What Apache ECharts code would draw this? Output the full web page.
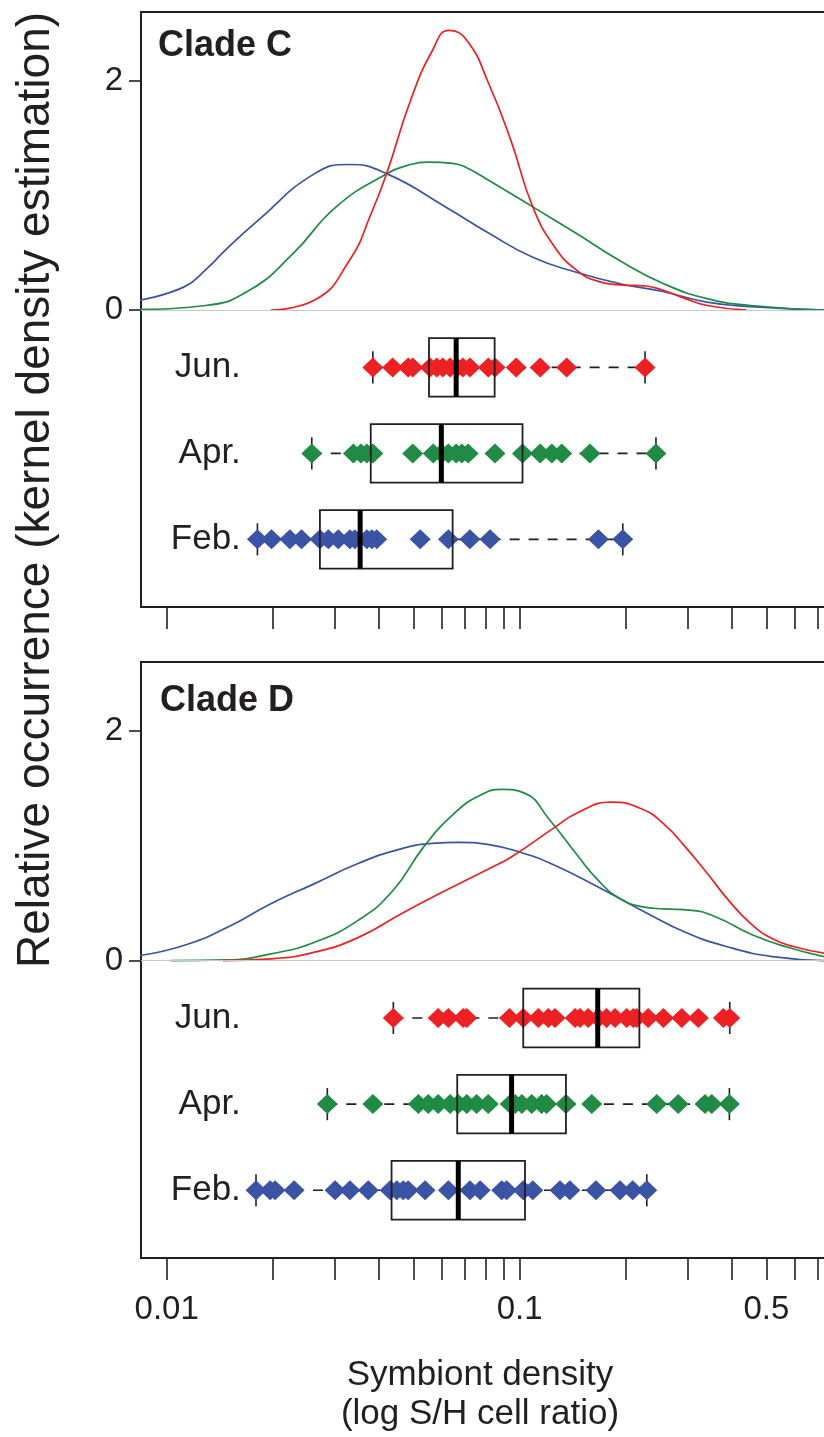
<!DOCTYPE html>
<html lang="en">
<head>
<meta charset="UTF-8">
<title>Symbiont density by clade</title>
<script src="https://cdn.jsdelivr.net/npm/echarts@6.0.0/dist/echarts.min.js"></script>
<style>
  html, body { margin: 0; padding: 0; background: #fff; }
  #main { width: 824px; height: 1437px; }
</style>
</head>
<body>
<div id="main"></div>
<script type="text/javascript">
// x values are log10(S/H cell ratio), y values are relative occurrence
var xTicks = [0.01, 0.02, 0.03, 0.04, 0.05, 0.06, 0.07, 0.08, 0.09, 0.1, 0.2, 0.3, 0.4, 0.5, 0.6, 0.7];
var xLabels = [0.01, 0.1, 0.5];
var yTicks = [0, 2];
var months = ['Jun.', 'Apr.', 'Feb.'];
var rowY = [-0.5, -1.25, -2.0];

// Clade C : individual samples and box stats [low, q1, median, q3, high]
var cJunPts = [-1.416, -1.360, -1.316, -1.303, -1.254, -1.235, -1.218, -1.197, -1.178, -1.161, -1.141, -1.089, -1.070, -1.010, -0.942, -0.867, -0.645];
var cAprPts = [-1.589, -1.471, -1.450, -1.433, -1.416, -1.303, -1.245, -1.221, -1.202, -1.180, -1.164, -1.146, -1.070, -0.992, -0.942, -0.909, -0.881, -0.801, -0.614];
var cFebPts = [-1.743, -1.703, -1.651, -1.618, -1.566, -1.542, -1.514, -1.481, -1.467, -1.433, -1.419, -1.405, -1.282, -1.202, -1.141, -1.084, -0.777, -0.708];
var cJunBox = [-1.416, -1.257, -1.180, -1.071, -0.645];
var cAprBox = [-1.589, -1.422, -1.222, -0.992, -0.614];
var cFebBox = [-1.743, -1.566, -1.452, -1.190, -0.708];

// Clade C : kernel density curves
var cJunKdeX = [-1.705, -1.581, -1.482, -1.421, -1.377, -1.309, -1.248, -1.201, -1.149, -1.087, -1.025, -0.963, -0.901, -0.840, -0.778, -0.716, -0.642, -0.592, -0.531, -0.469, -0.357];
var cJunKdeY = [0, 0.087, 0.435, 0.84, 1.19, 1.83, 2.26, 2.44, 2.35, 1.97, 1.48, 0.90, 0.55, 0.35, 0.25, 0.22, 0.21, 0.17, 0.10, 0.04, 0];
var cAprKdeX = [-2.076, -1.890, -1.767, -1.643, -1.520, -1.377, -1.320, -1.260, -1.190, -1.149, -1.087, -0.963, -0.840, -0.716, -0.592, -0.469, -0.345, -0.138];
var cAprKdeY = [0.006, 0.04, 0.17, 0.49, 0.90, 1.19, 1.26, 1.29, 1.28, 1.24, 1.13, 0.90, 0.67, 0.43, 0.23, 0.10, 0.04, 0];
var cFebKdeX = [-2.076, -1.952, -1.890, -1.828, -1.742, -1.581, -1.482, -1.377, -1.210, -1.087, -0.963, -0.840, -0.716, -0.592, -0.470, -0.345, -0.138];
var cFebKdeY = [0.087, 0.2, 0.35, 0.54, 0.78, 1.19, 1.27, 1.19, 0.90, 0.67, 0.46, 0.33, 0.23, 0.16, 0.07, 0.03, 0];

// Clade D : individual samples and box stats
var dJunPts = [-1.358, -1.231, -1.202, -1.160, -1.150, -1.029, -0.990, -0.947, -0.919, -0.900, -0.843, -0.829, -0.806, -0.777, -0.754, -0.730, -0.697, -0.678, -0.669, -0.636, -0.593, -0.541, -0.494, -0.423, -0.405];
var dAprPts = [-1.545, -1.416, -1.287, -1.259, -1.231, -1.197, -1.174, -1.150, -1.122, -1.089, -1.027, -1.013, -0.994, -0.966, -0.938, -0.924, -0.869, -0.796, -0.612, -0.551, -0.475, -0.456, -0.406];
var dFebPts = [-1.747, -1.707, -1.693, -1.639, -1.523, -1.481, -1.429, -1.367, -1.348, -1.330, -1.316, -1.268, -1.202, -1.141, -1.112, -1.051, -1.037, -0.990, -0.963, -0.886, -0.858, -0.784, -0.716, -0.680, -0.640];
var dJunBox = [-1.358, -0.990, -0.779, -0.661, -0.405];
var dAprBox = [-1.545, -1.177, -1.023, -0.869, -0.406];
var dFebBox = [-1.747, -1.363, -1.174, -0.985, -0.640];

// Clade D : kernel density curves
var dJunKdeX = [-1.841, -1.705, -1.581, -1.458, -1.334, -1.210, -1.087, -1.025, -0.901, -0.840, -0.741, -0.654, -0.592, -0.531, -0.469, -0.407, -0.345, -0.284, -0.222, -0.138];
var dJunKdeY = [0, 0.015, 0.073, 0.20, 0.41, 0.61, 0.80, 0.90, 1.16, 1.28, 1.38, 1.32, 1.19, 0.99, 0.76, 0.52, 0.32, 0.19, 0.12, 0.064];
var dAprKdeX = [-1.989, -1.828, -1.705, -1.581, -1.458, -1.359, -1.272, -1.186, -1.112, -1.050, -0.988, -0.914, -0.840, -0.778, -0.716, -0.654, -0.592, -0.518, -0.444, -0.345, -0.246, -0.138];
var dAprKdeY = [0, 0.006, 0.058, 0.16, 0.35, 0.61, 0.99, 1.28, 1.44, 1.49, 1.46, 1.22, 0.93, 0.70, 0.54, 0.47, 0.45, 0.44, 0.38, 0.23, 0.12, 0.035];
var dFebKdeX = [-2.076, -1.952, -1.828, -1.705, -1.581, -1.458, -1.334, -1.248, -1.173, -1.087, -1.000, -0.901, -0.778, -0.654, -0.531, -0.407, -0.284, -0.138];
var dFebKdeY = [0.044, 0.131, 0.29, 0.495, 0.67, 0.845, 0.975, 1.02, 1.03, 1.01, 0.946, 0.83, 0.64, 0.437, 0.247, 0.116, 0.035, 0];

var FONT = '"Liberation Sans", Arial, Helvetica, sans-serif';
var INK = '#231f20';
var colors = ['#ed2024', '#1f8b44', '#3a53a4']; // Jun, Apr, Feb
var X_MIN = -2.0728, X_MAX = -0.121;
var Y_MIN = -2.59, Y_MAX = 2.6;
var BOX_H = 0.255, CAP_H = 0.14, LABEL_X = -1.79;

function pairs(xs, ys) {
    return xs.map(function (x, i) { return [x, ys[i]]; });
}

function panelSeries(gi, kdes, pts, boxes) {
    var list = [];
    // curves: Feb first so Jun sits on top
    for (var m = 2; m >= 0; m--) {
        var s = {
            type: 'line', xAxisIndex: gi, yAxisIndex: gi,
            data: pairs(kdes[m][0], kdes[m][1]),
            smooth: 0.5, showSymbol: false, silent: true, z: 2,
            lineStyle: { color: colors[m], width: 1.7 }
        };
        if (m === 2) {
            s.markLine = {
                silent: true, symbol: 'none', label: { show: false },
                lineStyle: { color: '#c8c8c8', width: 1, type: 'solid' },
                data: [{ yAxis: 0 }]
            };
        }
        list.push(s);
    }
    // whiskers + month labels
    list.push({
        type: 'custom', xAxisIndex: gi, yAxisIndex: gi, z: 3, silent: true,
        data: boxes.map(function (b, m) { return b.concat([rowY[m]]); }),
        encode: { x: [0, 1, 2, 3, 4], y: 5 },
        renderItem: function (params, api) {
            var y = api.value(5);
            var lo = api.coord([api.value(0), y]);
            var q1 = api.coord([api.value(1), y]);
            var q3 = api.coord([api.value(3), y]);
            var hi = api.coord([api.value(4), y]);
            var cap = Math.abs(api.coord([0, y + CAP_H])[1] - lo[1]);
            var lab = api.coord([LABEL_X, y]);
            var dash = { stroke: INK, lineWidth: 1.6, lineDash: [10, 9] };
            var solid = { stroke: INK, lineWidth: 1.6 };
            return {
                type: 'group', children: [
                    { type: 'line', shape: { x1: lo[0], y1: lo[1], x2: q1[0], y2: q1[1] }, style: dash },
                    { type: 'line', shape: { x1: q3[0], y1: q3[1], x2: hi[0], y2: hi[1] }, style: dash },
                    { type: 'line', shape: { x1: lo[0], y1: lo[1] - cap, x2: lo[0], y2: lo[1] + cap }, style: solid },
                    { type: 'line', shape: { x1: hi[0], y1: hi[1] - cap, x2: hi[0], y2: hi[1] + cap }, style: solid },
                    { type: 'text', x: lab[0], y: lab[1], style: {
                        text: months[params.dataIndex], font: '35px ' + FONT, fill: INK,
                        align: 'right', verticalAlign: 'middle' } }
                ]
            };
        }
    });
    // sample diamonds
    for (var k = 0; k < 3; k++) {
        list.push({
            type: 'scatter', xAxisIndex: gi, yAxisIndex: gi, z: 4, silent: true,
            symbol: 'diamond', symbolSize: [21, 20],
            itemStyle: { color: colors[k], opacity: 1 },
            data: pts[k].map(function (v) { return [v, rowY[k]]; })
        });
    }
    // box + median on top
    list.push({
        type: 'custom', xAxisIndex: gi, yAxisIndex: gi, z: 5, silent: true,
        data: boxes.map(function (b, m) { return b.concat([rowY[m]]); }),
        encode: { x: [0, 1, 2, 3, 4], y: 5 },
        renderItem: function (params, api) {
            var y = api.value(5);
            var top = api.coord([api.value(1), y + BOX_H]);
            var bot = api.coord([api.value(3), y - BOX_H]);
            var med = api.coord([api.value(2), y]);
            return {
                type: 'group', children: [
                    { type: 'rect', shape: { x: top[0], y: top[1], width: bot[0] - top[0], height: bot[1] - top[1] },
                      style: { fill: 'none', stroke: INK, lineWidth: 1.8 } },
                    { type: 'line', shape: { x1: med[0], y1: top[1], x2: med[0], y2: bot[1] },
                      style: { stroke: '#000', lineWidth: 5 } }
                ]
            };
        }
    });
    return list;
}

function xAxisFor(gi, showLabels) {
    return {
        type: 'value', gridIndex: gi, min: X_MIN, max: X_MAX, position: 'bottom',
        axisLine: { show: false, onZero: false }, splitLine: { show: false },
        axisTick: { show: true, customValues: xTicks.map(Math.log10), length: 22,
                    lineStyle: { color: INK, width: 1.6 } },
        axisLabel: {
            show: showLabels, customValues: xLabels.map(Math.log10), margin: 35,
            fontSize: 33, fontFamily: FONT, color: INK,
            formatter: function (v) { return String(+Math.pow(10, v).toPrecision(2)); }
        }
    };
}

function yAxisFor(gi) {
    return {
        type: 'value', gridIndex: gi, min: Y_MIN, max: Y_MAX,
        axisLine: { show: false, onZero: false }, splitLine: { show: false },
        axisTick: { show: true, customValues: yTicks, length: 12, lineStyle: { color: INK, width: 1.6 } },
        axisLabel: { customValues: yTicks, margin: 18, fontSize: 33, fontFamily: FONT, color: INK }
    };
}

var myChart = echarts.init(document.getElementById('main'));

var option = {
    animation: false,
    backgroundColor: '#fff',
    grid: [
        { left: 141, top: 12, right: -6, height: 595, show: true, borderColor: INK, borderWidth: 2, outerBoundsMode: 'none' },
        { left: 141, top: 662, right: -6, height: 596, show: true, borderColor: INK, borderWidth: 2, outerBoundsMode: 'none' }
    ],
    xAxis: [xAxisFor(0, false), xAxisFor(1, true)],
    yAxis: [yAxisFor(0), yAxisFor(1)],
    graphic: [
        { type: 'text', left: 158, top: 28, style: { text: 'Clade C', font: 'bold 36px ' + FONT, fill: INK } },
        { type: 'text', left: 160, top: 683, style: { text: 'Clade D', font: 'bold 36px ' + FONT, fill: INK } },
        { type: 'text', x: 480, y: 1375, style: { text: 'Symbiont density', font: '35px ' + FONT, fill: INK, align: 'center', verticalAlign: 'middle' } },
        { type: 'text', x: 480, y: 1414, style: { text: '(log S/H cell ratio)', font: '35px ' + FONT, fill: INK, align: 'center', verticalAlign: 'middle' } },
        { type: 'text', x: 36, y: 490, rotation: Math.PI / 2,
          style: { text: 'Relative occurrence (kernel density estimation)', font: '46px ' + FONT, fill: INK, align: 'center', verticalAlign: 'middle' } }
    ],
    series: [].concat(
        panelSeries(0, [[cJunKdeX, cJunKdeY], [cAprKdeX, cAprKdeY], [cFebKdeX, cFebKdeY]],
                    [cJunPts, cAprPts, cFebPts], [cJunBox, cAprBox, cFebBox]),
        panelSeries(1, [[dJunKdeX, dJunKdeY], [dAprKdeX, dAprKdeY], [dFebKdeX, dFebKdeY]],
                    [dJunPts, dAprPts, dFebPts], [dJunBox, dAprBox, dFebBox])
    )
};

if (option && typeof option === 'object') {
    myChart.setOption(option, true);
}
</script>
</body>
</html>
